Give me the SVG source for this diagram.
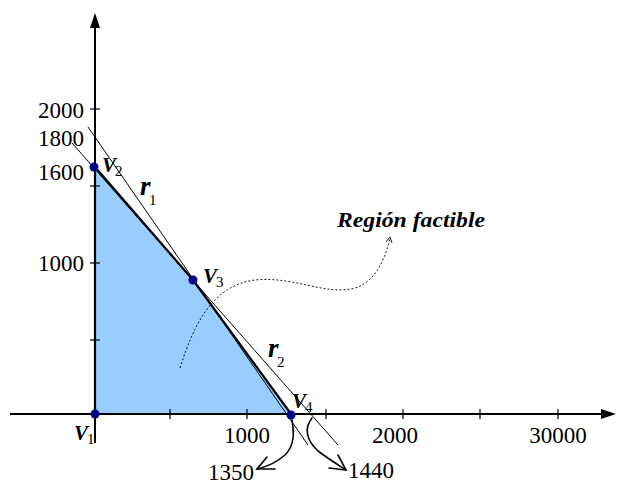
<svg xmlns="http://www.w3.org/2000/svg" width="617" height="486" viewBox="0 0 617 486">
<style>
.ax{stroke:#000;stroke-width:2;fill:none}
.tk{stroke:#000;stroke-width:1.2}
.thin{stroke:#000;stroke-width:1;fill:none}
.edge{stroke:#000;stroke-width:2.2;fill:none;stroke-linejoin:round}
.num{font-family:"Liberation Serif","Times New Roman",serif;font-size:23px;fill:#000}
.v{font-family:"Liberation Serif","Times New Roman",serif;font-weight:bold;font-style:italic;font-size:21px;fill:#000}
.sub{font-family:"Liberation Serif","Times New Roman",serif;font-size:15px;fill:#000}
.r{font-family:"Liberation Serif","Times New Roman",serif;font-weight:bold;font-style:italic;font-size:27px;fill:#000}
.dot{fill:#000080}
.arr{stroke:#000;stroke-width:1.6;fill:none;stroke-linecap:round}
</style>
<g id="region">
<polygon points="95,414 95,167 193,280 291,414" fill="#99CCFF"/>
</g>
<g id="axes">
<line class="ax" x1="10" y1="414" x2="604" y2="414"/>
<polygon points="616,414 601,409 601,419" fill="#000"/>
<line class="ax" x1="95" y1="443" x2="95" y2="27"/>
<polygon points="95,13 90,28 100,28" fill="#000"/>
<g>
<line class="tk" x1="170" y1="409" x2="170" y2="419"/>
<line class="tk" x1="247" y1="409" x2="247" y2="419"/>
<line class="tk" x1="326" y1="409" x2="326" y2="419"/>
<line class="tk" x1="403" y1="409" x2="403" y2="419"/>
<line class="tk" x1="480" y1="409" x2="480" y2="419"/>
<line class="tk" x1="558" y1="409" x2="558" y2="419"/>
<line class="tk" x1="90" y1="109" x2="100" y2="109"/>
<line class="tk" x1="90" y1="186" x2="100" y2="186"/>
<line class="tk" x1="90" y1="263" x2="100" y2="263"/>
<line class="tk" x1="90" y1="340" x2="100" y2="340"/>
</g>
<text class="num" x="84" y="118" text-anchor="end">2000</text>
<text class="num" x="84" y="146" text-anchor="end">1800</text>
<text class="num" x="84" y="180" text-anchor="end">1600</text>
<text class="num" x="84" y="271" text-anchor="end">1000</text>
<text class="num" x="247" y="443" text-anchor="middle">1000</text>
<text class="num" x="395" y="443" text-anchor="middle">2000</text>
<text class="num" x="558" y="443" text-anchor="middle">30000</text>
</g>
<g id="connectors">
<line id="r1-line" class="thin" x1="72" y1="143" x2="338" y2="445"/>
<line id="r2-line" class="thin" x1="88" y1="127" x2="308" y2="445"/>
<polyline class="edge" points="95,414 95,167 193,280 291,414"/>
<path id="callout" d="M180,368 C195,320 215,285 255,280 C295,276 325,296 355,288 C375,282 385,260 390,238" fill="none" stroke="#000" stroke-width="0.9" stroke-dasharray="2,2"/>
<path d="M386,242 L390,237 L392,243" fill="none" stroke="#000" stroke-width="0.9"/>
<path id="arrow1350" class="arr" d="M292,420 C294,432 295,445 285,455 C277,462 266,467 257,469"/>
<path class="arr" d="M267,457 L257,469 L275,469"/>
<path id="arrow1440" class="arr" d="M312,418 C304,428 306,440 318,451 C330,460 340,466 346,470"/>
<path class="arr" d="M338,455 L346,470 L329,468"/>
</g>
<g id="V1"><circle class="dot" cx="95" cy="414" r="4.5"/><text class="v" x="74" y="440">V</text><text class="sub" x="87" y="444">1</text></g>
<g id="V2"><circle class="dot" cx="94" cy="167" r="4.5"/><text class="v" x="102" y="172">V</text><text class="sub" x="115" y="176">2</text></g>
<g id="V3"><circle class="dot" cx="193" cy="280" r="4.5"/><text class="v" x="203" y="283">V</text><text class="sub" x="216" y="287">3</text></g>
<g id="V4"><circle class="dot" cx="291" cy="415" r="4.5"/><text class="v" x="292" y="408">V</text><text class="sub" x="305" y="412">4</text></g>
<g id="r1"><text class="r" x="140" y="195">r</text><text class="sub" x="149" y="205">1</text></g>
<g id="r2"><text class="r" x="268" y="357">r</text><text class="sub" x="277" y="367">2</text></g>
<g id="labels">
<text x="337" y="227" font-family="Liberation Serif, Times New Roman, serif" font-weight="bold" font-style="italic" font-size="22" textLength="148" lengthAdjust="spacingAndGlyphs">Región factible</text>
<text class="num" x="208" y="480">1350</text>
<text class="num" x="348" y="478">1440</text>
</g>
</svg>
